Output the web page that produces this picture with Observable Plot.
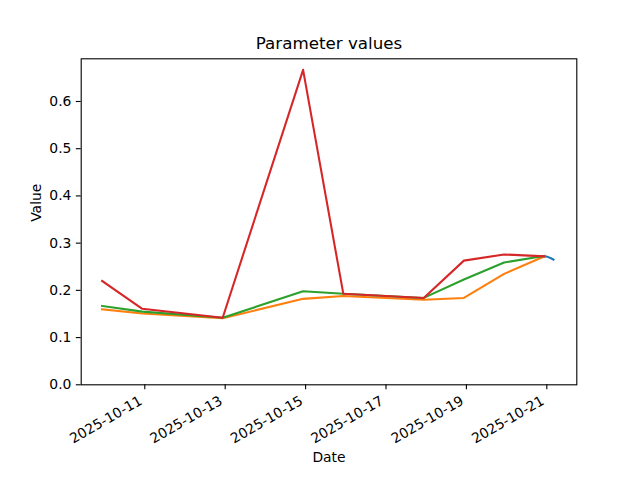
<!DOCTYPE html>
<html>
<head>
<meta charset="utf-8">
<script src="https://cdn.jsdelivr.net/npm/d3@7"></script>
<script src="https://cdn.jsdelivr.net/npm/@observablehq/plot@0.6"></script>
<style>
  html, body { margin: 0; padding: 0; background: white; }
</style>
</head>
<body>
<div id="chart"></div>
<script>
const title = "Parameter values";
const xLabel = "Date";
const yLabel = "Value";

const dates = ["2025-10-09T22:30", "2025-10-10T22:30", "2025-10-12T22:30", "2025-10-14T22:30",
               "2025-10-15T22:30", "2025-10-17T22:30", "2025-10-18T22:30", "2025-10-19T22:30", "2025-10-20T22:30"];
const series1Values = [0.160, 0.151, 0.141, 0.182, 0.188, 0.180, 0.184, 0.235, 0.272];
const series2Values = [0.167, 0.155, 0.142, 0.198, 0.193, 0.184, 0.223, 0.259, 0.273];
const series3Values = [0.220, 0.161, 0.142, 0.667, 0.193, 0.184, 0.263, 0.276, 0.272];
const series0Dates  = ["2025-10-20T22:30", "2025-10-21T00:30", "2025-10-21T02:30", "2025-10-21T04:00"];
const series0Values = [0.272, 0.271, 0.268, 0.265];

const seriesNames  = ["S0", "S1", "S2", "S3"];
const seriesColors = ["#1f77b4", "#ff7f0e", "#2ca02c", "#d62728"];

const xTickLabels = ["2025-10-11", "2025-10-13", "2025-10-15", "2025-10-17", "2025-10-19", "2025-10-21"];
const yTicks = [0, 0.1, 0.2, 0.3, 0.4, 0.5, 0.6];
const xDomain = ["2025-10-09T10:02", "2025-10-21T17:54"];
const yDomain = [0, 0.6904];

const parse = s => new Date(s);
const rows = [];
series0Dates.forEach((d, i) => rows.push({series: "S0", date: parse(d), value: series0Values[i]}));
dates.forEach((d, i) => rows.push({series: "S1", date: parse(d), value: series1Values[i]}));
dates.forEach((d, i) => rows.push({series: "S2", date: parse(d), value: series2Values[i]}));
dates.forEach((d, i) => rows.push({series: "S3", date: parse(d), value: series3Values[i]}));

const xTicks = xTickLabels.map(s => new Date(s + "T00:00"));

const chart = Plot.plot({
  width: 640,
  height: 480,
  marginLeft: 80.7,
  marginRight: 63.7,
  marginTop: 58.3,
  marginBottom: 95.7,
  style: {fontFamily: "DejaVu Sans, sans-serif", fontSize: "13.9px", background: "white", color: "black"},
  x: {type: "time", domain: xDomain.map(parse)},
  y: {domain: yDomain},
  color: {type: "ordinal", domain: seriesNames, range: seriesColors},
  marks: [
    Plot.line(rows, {x: "date", y: "value", z: "series", stroke: "series", strokeWidth: 2.08, strokeLinejoin: "round", strokeLinecap: "square"}),
    Plot.frame({stroke: "black", strokeWidth: 1.1}),
    Plot.axisY({ticks: yTicks, tickSize: 4.9, tickPadding: 4.9, tickFormat: d3.format(".1f"), label: null, fontSize: 13.9, strokeWidth: 1.1}),
    Plot.axisX({ticks: xTicks, tickSize: 4.9, tickFormat: () => "", label: null, strokeWidth: 1.1}),
    Plot.text(xTicks, {x: d => d, frameAnchor: "bottom", dy: 18.7, dx: -1.7, rotate: -30, textAnchor: "end", lineAnchor: "bottom", text: d => d3.timeFormat("%Y-%m-%d")(d), fontSize: 13.9}),
    Plot.text([title], {frameAnchor: "top", dy: -15.5, text: d => d, fontSize: 16.7, lineAnchor: "middle"}),
    Plot.text([xLabel], {frameAnchor: "bottom", dy: 72.5, text: d => d, fontSize: 13.9, lineAnchor: "middle"}),
    Plot.text([yLabel], {frameAnchor: "left", dx: -45, rotate: -90, text: d => d, fontSize: 13.9, lineAnchor: "middle"})
  ]
});
document.getElementById("chart").appendChild(chart);
</script>
</body>
</html>
